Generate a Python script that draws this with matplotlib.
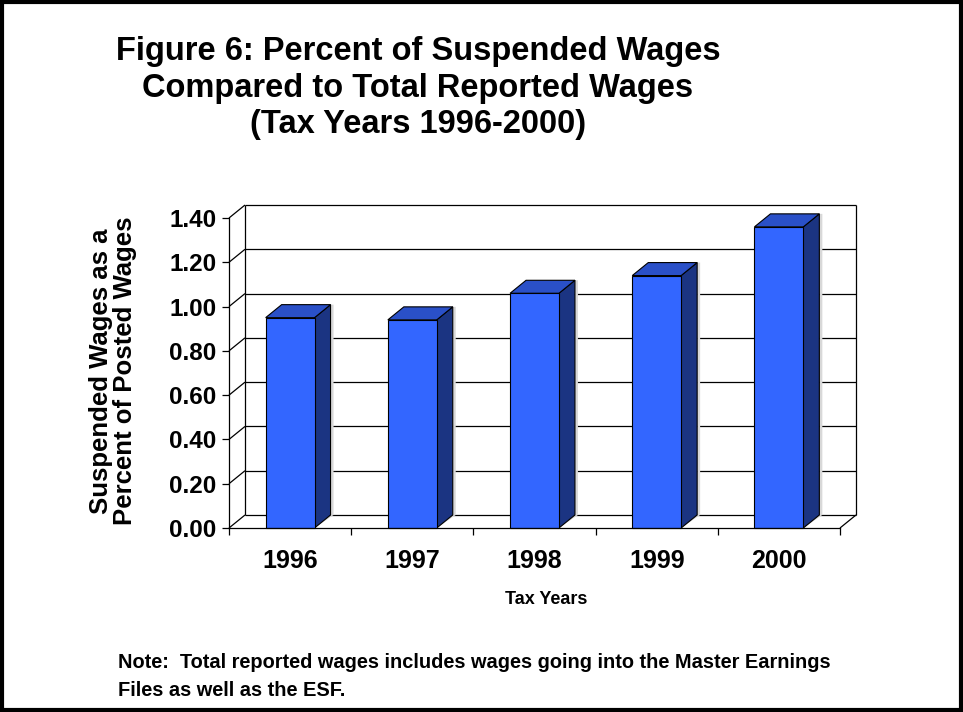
import matplotlib
matplotlib.use("Agg")
import matplotlib.pyplot as plt
from matplotlib.patches import Polygon, Rectangle
import numpy as np

plt.rcParams['font.family'] = ['Liberation Sans', 'DejaVu Sans']
plt.rcParams['font.weight'] = 'bold'

# Suspended wages as a percent of posted wages, by tax year
years = ["1996", "1997", "1998", "1999", "2000"]
pct_suspended = [0.95, 0.94, 1.06, 1.14, 1.36]
y_ticks = [0.0, 0.2, 0.4, 0.6, 0.8, 1.0, 1.2, 1.4]

FRONT = '#3366FF'
TOP = '#2A50C8'
SIDE = '#1B3482'
DEPTH_PX = (16, 13)      # oblique depth of the 3-D box, in pixels
BAR_W = 0.4

fig = plt.figure(figsize=(9.63, 7.12), dpi=100)
ax = fig.add_axes([229 / 963, 184 / 712, 611 / 963, 310 / 712])
ax.set_xlim(0, len(years))
ax.set_ylim(0, 1.4)
ax.patch.set_visible(False)

# depth vector converted to data units
p0 = ax.transData.inverted().transform((0, 0))
p1 = ax.transData.inverted().transform(DEPTH_PX)
ddx, ddy = p1 - p0
n = len(years)

def line(xs, ys, **kw):
    kw.setdefault('color', 'black')
    kw.setdefault('lw', 0.9)
    ax.plot(xs, ys, clip_on=False, solid_capstyle='butt', **kw)

# back wall gridlines and the diagonals on the left wall
for t in y_ticks:
    line([ddx, n + ddx], [t + ddy, t + ddy], zorder=1)
    line([0, ddx], [t, t + ddy], zorder=1)
line([ddx, ddx], [ddy, 1.4 + ddy], zorder=1)
line([n + ddx, n + ddx], [ddy, 1.4 + ddy], zorder=1)
line([n, n + ddx], [0, ddy], zorder=1)

# bars with front, top and side faces
for i, v in enumerate(pct_suspended):
    c = i + 0.5
    x0, x1 = c - BAR_W / 2, c + BAR_W / 2
    sx, sy = ax.transData.inverted().transform((3, 0)) - p0
    shadow = Polygon([(x1, 0), (x1 + ddx + sx, ddy), (x1 + ddx + sx, v + ddy),
                      (x1 + ddx, v + ddy), (x1 + ddx, ddy)],
                     closed=True, facecolor='#d8d8d8', edgecolor='none', zorder=2)
    ax.add_patch(shadow)
    side = Polygon([(x1, 0), (x1 + ddx, ddy), (x1 + ddx, v + ddy), (x1, v)],
                   closed=True, facecolor=SIDE, edgecolor='black', lw=0.8, zorder=3)
    top = Polygon([(x0, v), (x1, v), (x1 + ddx, v + ddy), (x0 + ddx, v + ddy)],
                  closed=True, facecolor=TOP, edgecolor='black', lw=0.8, zorder=3)
    front = Rectangle((x0, 0), BAR_W, v, facecolor=FRONT, edgecolor='black',
                      lw=0.8, zorder=4)
    for p in (shadow, side, top, front):
        p.set_clip_on(False)
    ax.add_patch(side)
    ax.add_patch(top)
    ax.add_patch(front)

for s in ('top', 'right'):
    ax.spines[s].set_visible(False)
for s in ('left', 'bottom'):
    ax.spines[s].set_linewidth(0.9)
    ax.spines[s].set_zorder(5)

ax.set_yticks(y_ticks)
ax.set_yticklabels([f"{t:.2f}" for t in y_ticks], fontsize=17.5, fontweight='bold')
ax.tick_params(axis='y', length=5, width=0.9, pad=4)

ax.set_xticks(np.arange(n + 1))
ax.set_xticklabels([])
ax.tick_params(axis='x', which='major', length=5, width=0.9)
ax.set_xticks(np.arange(n) + 0.5, minor=True)
ax.set_xticklabels(years, minor=True, fontsize=18, fontweight='bold')
ax.tick_params(axis='x', which='minor', length=0, pad=15)

fig.text(113 / 963, 0.479, "Suspended Wages as a\nPercent of Posted Wages",
         rotation=90, ha='center', va='center', fontsize=18.5, fontweight='bold',
         multialignment='center', linespacing=0.95)
fig.text(546 / 963, 1 - 600 / 712, "Tax Years", ha='center', va='center',
         fontsize=13, fontweight='bold')

fig.text(418 / 963, 1 - 88 / 712,
         "Figure 6: Percent of Suspended Wages\nCompared to Total Reported Wages\n(Tax Years 1996-2000)",
         ha='center', va='center', fontsize=23.5, fontweight='bold', linespacing=1.23)

fig.text(118 / 963, 1 - 668 / 712,
         "Note:  Total reported wages includes wages going into the Master Earnings",
         ha='left', va='baseline', fontsize=14.4, fontweight='bold')
fig.text(118 / 963, 1 - 696 / 712, "Files as well as the ESF.",
         ha='left', va='baseline', fontsize=14.4, fontweight='bold')

# outer frame
fig.patches.append(Rectangle((0.002, 0.0025), 0.996, 0.995, transform=fig.transFigure,
                             fill=False, edgecolor='black', lw=3))

fig.savefig("out.png", dpi=100)
